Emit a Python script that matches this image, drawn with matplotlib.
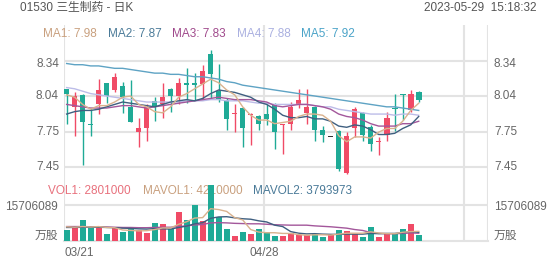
import matplotlib.pyplot as plt
import matplotlib.transforms as mtransforms
import numpy as np

plt.rcParams['font.family'] = ['Liberation Sans', 'Noto Sans CJK SC']

W, H = 552, 265

# daily candles, index 0 = 03/21
opens = [8.10, 7.95, 8.05, 7.81, 7.97, 8.15, 8.09, 8.12, 7.95, 7.74,
         7.77, 8.00, 7.97, 8.10, 8.04, 8.15, 8.15, 8.14, 8.39, 8.08,
         8.01, 7.89, 7.94, 7.88, 7.87, 7.89, 7.97, 7.80, 7.81, 7.97,
         7.90, 7.95, 7.76, 7.70, 7.75, 7.40, 7.77, 7.90, 7.78, 7.66,
         7.72, 7.94, 8.06, 7.92, 8.07]
closes = [8.06, 8.04, 7.82, 7.80, 8.09, 8.04, 8.20, 8.03, 7.82, 7.77,
          7.95, 7.96, 8.03, 8.04, 8.15, 8.13, 8.13, 8.25, 8.22, 8.01,
          7.85, 7.90, 7.77, 7.89, 7.81, 7.85, 7.74, 7.81, 7.95, 8.01,
          7.95, 7.76, 7.72, 7.70, 7.43, 7.71, 7.93, 7.72, 7.64, 7.67,
          7.86, 7.93, 8.05, 8.06, 8.01]
highs = [8.10, 8.07, 8.06, 7.94, 8.18, 8.15, 8.23, 8.16, 8.17, 7.86,
         7.97, 8.03, 8.15, 8.11, 8.19, 8.27, 8.23, 8.30, 8.42, 8.31,
         8.02, 7.97, 7.95, 7.90, 7.88, 7.97, 7.98, 7.81, 7.99, 8.10,
         8.10, 7.96, 7.79, 7.70, 7.76, 7.74, 7.95, 7.91, 7.80, 7.70,
         7.91, 8.06, 8.06, 8.09, 8.08]
lows = [7.81, 7.71, 7.47, 7.71, 7.89, 7.98, 8.07, 7.90, 7.82, 7.62,
        7.67, 7.83, 7.86, 7.91, 7.97, 7.98, 8.01, 8.01, 8.02, 7.99,
        7.76, 7.74, 7.62, 7.63, 7.76, 7.80, 7.60, 7.56, 7.76, 7.94,
        7.81, 7.67, 7.66, 7.70, 7.42, 7.39, 7.70, 7.67, 7.58, 7.55,
        7.67, 7.75, 7.84, 7.91, 7.99]

volumes = [4800000, 5800000, 9000000, 5800000, 5900000, 2900000, 5500000, 3800000, 5100000, 4800000,
           3500000, 7800000, 7400000, 5100000, 12600000, 9200000, 15600000, 8600000, 24400000, 10500000,
           5200000, 2300000, 3800000, 3100000, 5200000, 3800000, 2100000, 2100000, 3300000, 2600000,
           2600000, 2900000, 1900000, 2900000, 4800000, 4400000, 2900000, 1900000, 6200000, 1900000,
           2900000, 2900000, 5200000, 7400000, 2801000]

# moving average lines
ma1 = [8.05, 8.03, 7.97, 7.93, 7.96, 7.96, 7.99, 8.03, 8.04, 7.97,
       7.95, 7.91, 7.90, 7.95, 8.03, 8.06, 8.10, 8.14, 8.18, 8.15,
       8.09, 8.05, 7.95, 7.88, 7.84, 7.84, 7.81, 7.82, 7.83, 7.87,
       7.89, 7.89, 7.88, 7.83, 7.71, 7.66, 7.70, 7.70, 7.69, 7.74,
       7.77, 7.77, 7.83, 7.92, 7.98]
ma2 = [7.89, 7.91, 7.92, 7.92, 7.93, 7.95, 7.97, 7.99, 7.98, 7.97,
       7.96, 7.95, 7.97, 7.99, 8.00, 8.01, 8.00, 8.02, 8.06, 8.09,
       8.08, 8.07, 8.05, 8.03, 7.99, 7.97, 7.93, 7.88, 7.86, 7.86,
       7.87, 7.85, 7.85, 7.83, 7.79, 7.78, 7.80, 7.79, 7.76, 7.72,
       7.72, 7.73, 7.77, 7.80, 7.87]
ma3 = [7.97, 7.96, 7.95, 7.94, 7.94, 7.94, 7.95, 7.96, 7.96, 7.95,
       7.94, 7.95, 7.96, 7.97, 7.98, 7.99, 8.00, 8.01, 8.02, 8.03,
       8.02, 8.01, 8.01, 8.01, 8.00, 7.99, 7.96, 7.95, 7.96, 7.97,
       7.97, 7.96, 7.95, 7.93, 7.89, 7.87, 7.86, 7.84, 7.81, 7.79,
       7.79, 7.79, 7.81, 7.81, 7.83]
ma4 = [8.11, 8.10, 8.08, 8.06, 8.05, 8.04, 8.03, 8.02, 8.01, 8.00,
       7.99, 7.99, 7.99, 7.99, 7.99, 8.00, 8.00, 8.00, 8.01, 8.01,
       8.00, 8.00, 8.00, 7.99, 7.98, 7.98, 7.97, 7.97, 7.97, 7.97,
       7.97, 7.96, 7.95, 7.95, 7.93, 7.92, 7.91, 7.90, 7.89, 7.89,
       7.89, 7.88, 7.89, 7.89, 7.88]
ma5 = [8.31, 8.30, 8.30, 8.29, 8.29, 8.28, 8.27, 8.27, 8.26, 8.25,
       8.24, 8.23, 8.23, 8.22, 8.22, 8.21, 8.20, 8.20, 8.19, 8.18,
       8.16, 8.15, 8.13, 8.12, 8.11, 8.10, 8.09, 8.08, 8.07, 8.06,
       8.05, 8.04, 8.03, 8.02, 8.01, 8.00, 7.99, 7.98, 7.97, 7.96,
       7.95, 7.95, 7.94, 7.93, 7.92]

mavol1 = [6.2, 6.0, 6.3, 6.1, 6.3, 5.9, 5.8, 4.8, 4.6, 4.4,
          4.5, 5.0, 5.7, 5.7, 7.3, 8.4, 10.0, 10.2, 14.1, 13.7,
          12.9, 10.2, 9.2, 5.0, 3.9, 3.6, 3.6, 3.3, 3.3, 2.8,
          2.5, 2.7, 2.7, 2.6, 3.0, 3.4, 3.4, 3.4, 4.0, 3.5,
          3.2, 3.2, 3.8, 4.1, 4.21]
mavol2 = [5.9, 5.9, 6.0, 6.0, 6.0, 5.9, 5.8, 5.6, 5.5, 5.3,
          5.2, 5.4, 5.3, 5.2, 5.9, 6.5, 7.5, 8.0, 9.9, 10.5,
          10.6, 10.1, 9.7, 9.5, 8.8, 8.3, 6.9, 6.3, 4.1, 3.4,
          3.1, 3.2, 3.0, 2.9, 2.9, 3.0, 3.0, 3.0, 3.3, 3.2,
          3.3, 3.3, 3.6, 4.1, 3.79]
mavol3 = [6.3, 6.3, 6.3, 6.2, 6.2, 6.1, 6.0, 5.9, 5.9, 5.8,
          5.8, 5.9, 6.0, 6.0, 6.3, 6.6, 7.0, 7.2, 7.9, 8.0,
          7.9, 7.7, 7.6, 7.5, 7.5, 7.3, 7.1, 7.0, 6.9, 6.9,
          6.9, 6.6, 6.4, 6.2, 5.9, 5.6, 5.0, 4.6, 3.7, 3.3,
          3.2, 3.2, 3.3, 3.5, 3.4]

date_idx = [0, 25]
date_labels = ['03/21', '04/28']
price_ticks = [7.45, 7.745, 8.04, 8.335]
price_labels = ['7.45', '7.75', '8.04', '8.34']
vol_tick = 15706089

ma_names = ['MA1: 7.98', 'MA2: 7.87', 'MA3: 7.83', 'MA4: 7.88', 'MA5: 7.92']
vol_names = ['VOL1: 2801000', 'MAVOL1: 4210000', 'MAVOL2: 3793973']

UP = '#f04b66'
DOWN = '#1faa96'
GRID = '#e3e3e3'
TXT = '#666666'
ma_line_colors = ['#d9b28e', '#3f5f80', '#a3579b', '#bcbce8', '#5ea3c4']
ma_text_colors = ['#c9a07e', '#4a7a98', '#a04a8c', '#aab0e0', '#4aa3c8']

fig = plt.figure(figsize=(W / 100, H / 100), dpi=100)
ax = fig.add_axes([64 / W, 1 - 180 / H, 424 / W, 155 / H])
axv = fig.add_axes([64 / W, 1 - 241 / H, 424 / W, 61 / H])
for a in (ax, axv):
    a.set_xlim(-0.33, 52.66)
    a.set_facecolor('none')
    for s in a.spines.values():
        s.set_visible(False)
    a.set_xticks([])
    a.set_yticks([])
    a.axvline(52.66, color=GRID, lw=1.5)
    for d in date_idx + [50]:
        a.axvline(d - 0.3, color=GRID, lw=1.5, zorder=0)
ax.set_ylim(7.342, 8.630)
axv.set_ylim(0, 26.6e6)
axv.axhline(0, color=GRID, lw=1.5, zorder=0, clip_on=False)

for t in price_ticks:
    ax.axhline(t, color=GRID, lw=1.5, zorder=0)
axv.axhline(vol_tick, color=GRID, lw=1.5, zorder=0)

x = np.arange(len(closes))
o = np.array(opens)
c = np.array(closes)
cols = np.where(c > o, UP, np.where(c < o, DOWN, '#333333'))
vcols = np.where(c >= o, UP, DOWN)

# candles
ax.vlines(x, lows, highs, colors=cols, lw=1, zorder=3)
body = np.maximum(np.abs(c - o), 0.006)
ax.bar(x, body, bottom=np.minimum(o, c), width=0.7, color=cols, zorder=4)

for vals, col in zip([ma5, ma4, ma3, ma2, ma1], ma_line_colors[::-1]):
    ax.plot(x, vals, color=col, lw=1, zorder=5)

# volume
axv.bar(x, volumes, width=0.75, color=vcols, zorder=3)
for vals, col in zip([mavol3, mavol2, mavol1], [ma_line_colors[2], ma_line_colors[1], ma_line_colors[0]]):
    axv.plot(x, np.array(vals) * 1e6, color=col, lw=1, zorder=4)

# texts
fs = 8.5
fig.text(20 / W, 1 - 8 / H, '01530 三生制药 - 日K', fontsize=fs, color='#555555', va='center')
fig.text(536 / W, 1 - 8 / H, '2023-05-29  15:18:32', fontsize=fs, color='#555555', va='center', ha='right')

ma_x = [43, 108, 172, 237, 301]
for xx, name, col in zip(ma_x, ma_names, ma_text_colors):
    fig.text(xx / W, 1 - 34 / H, name, fontsize=fs, color=col, va='center')

vol_x = [48, 143, 253]
vol_cols = ['#e8707c', ma_text_colors[0], ma_text_colors[1]]
for xx, name, col in zip(vol_x, vol_names, vol_cols):
    axv.text(xx / W, 1 - 191.5 / H, name, fontsize=fs, color=col, va='center',
             transform=fig.transFigure, zorder=1)

tl = mtransforms.blended_transform_factory(fig.transFigure, ax.transData)
for t, lab in zip(price_ticks, price_labels):
    dy = -3 if t == max(price_ticks) else 0
    tr = mtransforms.offset_copy(tl, fig=fig, y=dy, units='dots')
    fig.text(59 / W, t, lab, fontsize=fs, color=TXT, ha='right', va='center', transform=tr)
    fig.text(494 / W, t, lab, fontsize=fs, color=TXT, ha='left', va='center', transform=tr)

tv = mtransforms.blended_transform_factory(fig.transFigure, axv.transData)
trv = mtransforms.offset_copy(tv, fig=fig, y=-2, units='dots')
fig.text(58 / W, vol_tick, str(vol_tick), fontsize=fs, color=TXT, ha='right', va='center', transform=trv)
fig.text(494 / W, vol_tick, str(vol_tick), fontsize=fs, color=TXT, ha='left', va='center', transform=trv)
fig.text(58 / W, 1 - 236 / H, '万股', fontsize=fs, color=TXT, ha='right', va='center')
fig.text(494 / W, 1 - 236 / H, '万股', fontsize=fs, color=TXT, ha='left', va='center')

tx = mtransforms.blended_transform_factory(axv.transData, fig.transFigure)
for d, lab in zip(date_idx, date_labels):
    ha = 'left' if d == 0 else 'center'
    fig.text(d - 0.3, 1 - 252.5 / H, lab, fontsize=fs, color=TXT, ha=ha, va='center', transform=tx)

fig.savefig('out.png', dpi=100)
